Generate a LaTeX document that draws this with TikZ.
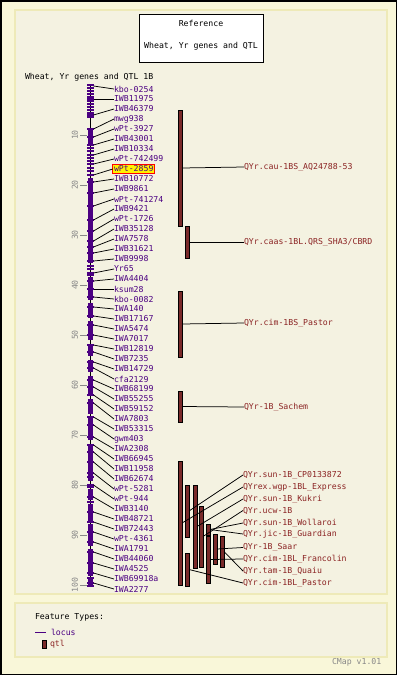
\documentclass[tikz,border=0pt]{standalone}
\usepackage{fontspec}
\setmonofont{DejaVu Sans Mono}
\definecolor{outerbg}{HTML}{F9F7D9}
\definecolor{panelbg}{HTML}{F4F2E1}
\definecolor{panelbd}{HTML}{EEEAB8}
\definecolor{mkcol}{HTML}{4B0082}
\definecolor{qcol}{HTML}{7A2A2A}
\definecolor{qtext}{HTML}{8B2323}
\definecolor{rulegray}{HTML}{888888}
\begin{document}
\begin{tikzpicture}[x=1pt,y=-1pt,
  txt/.style={font=\ttfamily\fontsize{8.2}{9}\selectfont, inner sep=0pt, outer sep=0pt},
  mk/.style={txt, text=mkcol, anchor=west},
  ql/.style={txt, text=qtext, anchor=west},
  leader/.style={draw=black, line width=0.75pt},
  qbar/.style={draw=black, fill=qcol, line width=0.6pt, inner sep=0pt, outer sep=0pt, minimum width=4pt},
  tickm/.style={fill=mkcol},
  ruler/.style={txt, text=rulegray, rotate=90},
  panel/.style={fill=panelbg, draw=panelbd, line width=1.5pt}]
\useasboundingbox (0,0) rectangle (397,675);
\fill[outerbg] (0,0) rectangle (397,675);
\draw[black, line width=1.5pt] (0.75,0.75) rectangle (396.25,674.25);
\draw[panel] (15,10) rectangle (387,594);
\draw[panel] (15,603) rectangle (387,657);

% title box
\node[draw=black, fill=white, line width=0.8pt, minimum width=124pt, minimum height=48pt, inner sep=0pt] (title) at (201,38) {};
\node[txt] (tref) at (201,23) {Reference};
\node[txt] (tname) at (201,46) {Wheat, Yr genes and QTL};
\node[txt, anchor=west] (mapname) at (25,77) {Wheat, Yr genes and QTL 1B};

% chromosome backbone
\draw[black, line width=1.6pt] (90.5,85) -- (90.5,587);
\foreach \a/\b in {130/146,178/263,277/300,303/318,321/340,344/356,360/372,376/396,399/414,418/440,446/481,489/500,504/521,524/546,549/576,579/587}
  \fill[mkcol] (88,\a) rectangle (93,\b);
\foreach \t in {85,88,91,94,97,99,101,104,107,110,113,115,117,129,137,145,148,151,155,158,161,164,168,171,175,182,193,206,220,231,241,247,253,261,266,269,273,275,281,289,297,307,316,325,335,345,352,362,368,380,387,395,403,417,425,437,445,452,462,473,477,485,487,497,502,512,522,532,542,552,563,573,578,583,586}
  \fill[tickm] (87,\t-0.8) rectangle (94,\t+0.8);

% ruler
\foreach \k in {10,20,...,100}{
  \draw[rulegray, line width=0.6pt] (80,85+5*\k) -- (87,85+5*\k);
  \node[ruler] at (75,85+5*\k) {\k};
}

% markers
\foreach \n/\lab/\ly/\py in {
 1/kbo-0254/89/86, 2/IWB11975/99/99, 3/IWB46379/109/115, 4/mwg938/119/129,
 5/wPt-3927/129/137, 6/IWB43001/139/145, 7/IWB10334/149/155, 8/wPt-742499/159/164,
 10/IWB10772/179/182, 11/IWB9861/189/193, 12/wPt-741274/199/206,
 13/IWB9421/209/220, 14/wPt-1726/219/231, 15/IWB35128/229/241, 16/IWA7578/239/247,
 17/IWB31621/249/253, 18/IWB9998/259/261, 19/Yr65/269/273, 20/IWA4404/279/281,
 21/ksum28/289/289, 22/kbo-0082/299/297, 23/IWA140/309/307, 24/IWB17167/319/316,
 25/IWA5474/329/325, 26/IWA7017/339/335, 27/IWB12819/349/345, 28/IWB7235/359/352,
 29/IWB14729/369/362, 30/cfa2129/379/368, 31/IWB68199/389/380, 32/IWB55255/399/387,
 33/IWB59152/409/395, 34/IWA7803/419/403, 35/IWB53315/429/417, 36/gwm403/439/425,
 37/IWA2308/449/437, 38/IWB66945/459/445, 39/IWB11958/469/452, 40/IWB62674/479/462,
 41/wPt-5281/489/473, 42/wPt-944/499/485, 43/IWB3140/509/497, 44/IWB48721/519/512,
 45/IWB72443/529/522, 46/wPt-4361/539/532, 47/IWA1791/549/542, 48/IWB44060/559/552,
 49/IWA4525/569/563, 50/IWB69918a/579/573, 51/IWA2277/589/583}{
  \coordinate (p\n) at (93.5,\py);
  \node[mk] (m\n) at (114,\ly) {\lab};
  \draw[leader] (p\n) -- (m\n.west);
}
\coordinate (p9) at (93.5,175);
\node[mk, fill=yellow, draw=red, line width=0.8pt, inner sep=1.2pt] (m9) at (112.8,169) {wPt-2859};
\draw[leader] (p9) -- (m9.west);

% QTL bars (top)
\node[qbar, minimum height=116pt] (q1) at (180,168) {};
\node[qbar, minimum height=32pt] (q2) at (187,242) {};
\node[qbar, minimum height=66pt] (q3) at (180,324) {};
\node[qbar, minimum height=31pt] (q4) at (180,406.5) {};
\node[ql] (l1) at (244,167) {QYr.cau-1BS\_AQ24788-53};
\node[ql] (l2) at (244,242) {QYr.caas-1BL.QRS\_SHA3/CBRD};
\node[ql] (l3) at (244,323) {QYr.cim-1BS\_Pastor};
\node[ql] (l4) at (244,407) {QYr-1B\_Sachem};
\draw[leader] (q1.east) -- (l1.west);
\draw[leader] (q2.east) -- (l2.west);
\draw[leader] (q3.east) -- (l3.west);
\draw[leader] (q4.east) -- (l4.west);

% QTL bars (bottom cluster)
\node[qbar, minimum height=124pt] (qA) at (180,523) {};
\node[qbar, minimum height=52pt] (qB) at (187,511) {};
\node[qbar, minimum height=83pt] (qC) at (195,526.5) {};
\node[qbar, minimum height=61pt] (qD) at (201,536.5) {};
\node[qbar, minimum height=11pt] (qE) at (208,529.5) {};
\node[qbar, minimum height=11pt] (qE2) at (208,529.5) {};
\node[qbar, minimum height=47pt] (qF) at (208,559.5) {};
\node[qbar, minimum height=30pt] (qG) at (215,549) {};
\node[qbar, minimum height=31pt] (qH) at (222,551.5) {};
\node[qbar, minimum height=33pt] (qI) at (187,569.5) {};
\node[ql] (b1) at (243,475) {QYr.sun-1B\_CP0133872};
\node[ql] (b2) at (243,487) {QYrex.wgp-1BL\_Express};
\node[ql] (b3) at (243,499) {QYr.sun-1B\_Kukri};
\node[ql] (b4) at (243,510.5) {QYr.ucw-1B};
\node[ql] (b5) at (243,523) {QYr.sun-1B\_Wollaroi};
\node[ql] (b6) at (243,534) {QYr.jic-1B\_Guardian};
\node[ql] (b7) at (243,547.5) {QYr-1B\_Saar};
\node[ql] (b8) at (243,559) {QYr.cim-1BL\_Francolin};
\node[ql] (b9) at (243,571) {QYr.tam-1B\_Quaiu};
\node[ql] (b10) at (243,583) {QYr.cim-1BL\_Pastor};
\draw[leader] (qB.east) -- (b1.west);
\draw[leader] (qA.east) -- (b2.west);
\draw[leader] (qC.east) -- (b3.west);
\draw[leader] (qD.east) -- (b4.west);
\draw[leader] (qE.east) -- (b5.west);
\draw[leader] (qE2.east) -- (b6.west);
\draw[leader] (qG.east) -- (b7.west);
\draw[leader] (qF.east) -- (b8.west);
\draw[leader] (qH.east) -- (b9.west);
\draw[leader] (qI.east) -- (b10.west);

% legend
\node[txt, anchor=west] (ft) at (35,617) {Feature Types:};
\coordinate (lg1) at (35,632);
\node[mk] (lglocus) at (51,632) {locus};
\draw[mkcol, line width=1pt] (lg1) -- (46,632);
\node[qbar, minimum width=3.5pt, minimum height=8pt] (lgq) at (44.5,644) {};
\node[ql] (lgqtl) at (50,644) {qtl};
\node[txt, text=rulegray, anchor=west] (ver) at (332,662) {CMap v1.01};
\end{tikzpicture}
\end{document}
